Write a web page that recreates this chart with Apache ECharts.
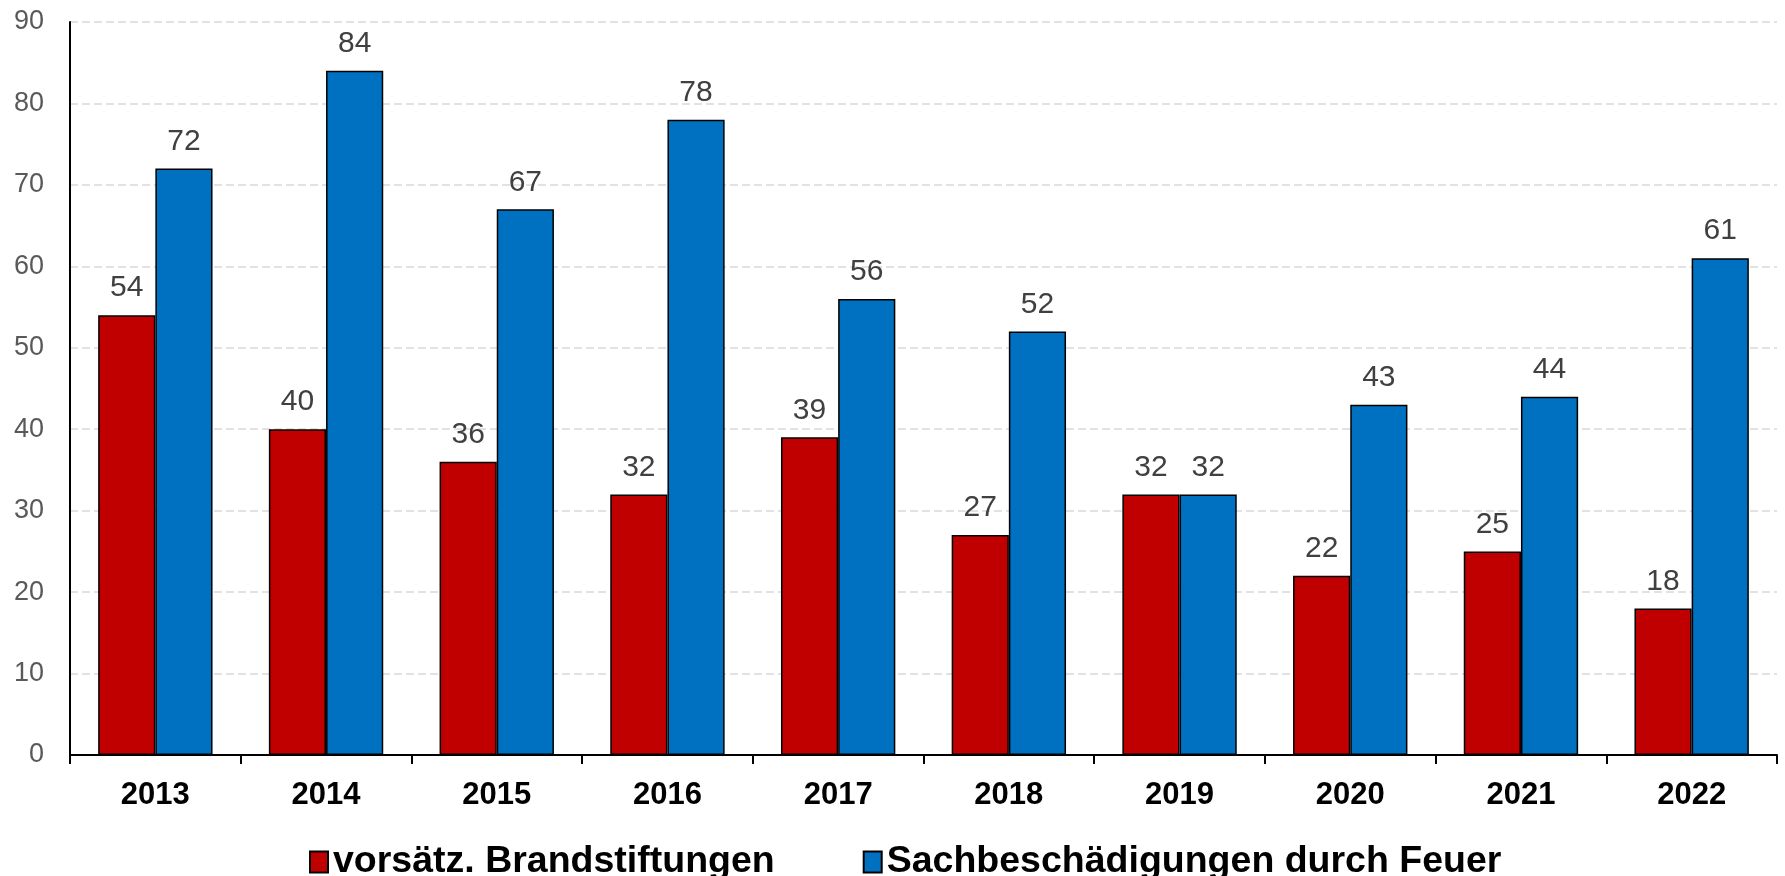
<!DOCTYPE html>
<html>
<head>
<meta charset="utf-8">
<script src="https://cdn.jsdelivr.net/npm/echarts@6/dist/echarts.min.js"></script>
<style>
  html, body { margin: 0; padding: 0; background: #fff; }
  #chart { width: 1785px; height: 876px; }
</style>
</head>
<body>
<div id="chart"></div>
<script>
var years = ['2013', '2014', '2015', '2016', '2017', '2018', '2019', '2020', '2021', '2022'];
var brandstiftungen = [54, 40, 36, 32, 39, 27, 32, 22, 25, 18];
var sachbeschaedigungen = [72, 84, 67, 78, 56, 52, 32, 43, 44, 61];
var yTicks = { min: 0, max: 90, interval: 10 };

var myChart;
document.addEventListener("DOMContentLoaded", function() {
    initChart();
});

function initChart() {
    myChart = echarts.init(document.getElementById('chart'));
    var labelStyle = {
        show: true,
        position: 'top',
        distance: 12,
        fontSize: 30,
        color: '#404040',
        fontFamily: 'Liberation Sans, Arial, sans-serif'
    };
    var option = {
        animation: false,
        textStyle: { fontFamily: 'Liberation Sans, Arial, sans-serif' },
        grid: { left: 70, right: 8, top: 22, bottom: 121 },
        legend: {
            left: 304,
            top: 838,
            itemGap: 88,
            itemWidth: 18,
            itemHeight: 21,
            icon: 'rect',
            textStyle: { fontSize: 37.5, fontWeight: 'bold', color: '#000' },
            data: ['vorsätz. Brandstiftungen', 'Sachbeschädigungen durch Feuer']
        },
        xAxis: {
            type: 'category',
            data: years,
            axisLine: { lineStyle: { color: '#000', width: 2 } },
            axisTick: { show: true, length: 9, lineStyle: { color: '#000', width: 2 } },
            axisLabel: { fontSize: 31, fontWeight: 'bold', color: '#000', margin: 25 }
        },
        yAxis: {
            type: 'value',
            min: yTicks.min,
            max: yTicks.max,
            interval: yTicks.interval,
            axisLine: { show: true, lineStyle: { color: '#000', width: 2 } },
            axisTick: { show: false },
            axisLabel: { fontSize: 27, color: '#595959', margin: 26 },
            splitLine: { lineStyle: { color: '#d9d9d9', type: [8, 4], width: 1.5 } }
        },
        series: [{
            name: 'vorsätz. Brandstiftungen',
            type: 'bar',
            data: brandstiftungen,
            barGap: '0%',
            barCategoryGap: '33%',
            itemStyle: { color: '#c00000', borderColor: '#000', borderWidth: 1.5 },
            label: labelStyle
        }, {
            name: 'Sachbeschädigungen durch Feuer',
            type: 'bar',
            data: sachbeschaedigungen,
            barGap: '0%',
            barCategoryGap: '33%',
            itemStyle: { color: '#0070c0', borderColor: '#000', borderWidth: 1.5 },
            label: labelStyle
        }]
    };
    myChart.setOption(option);
}
</script>
</body>
</html>
